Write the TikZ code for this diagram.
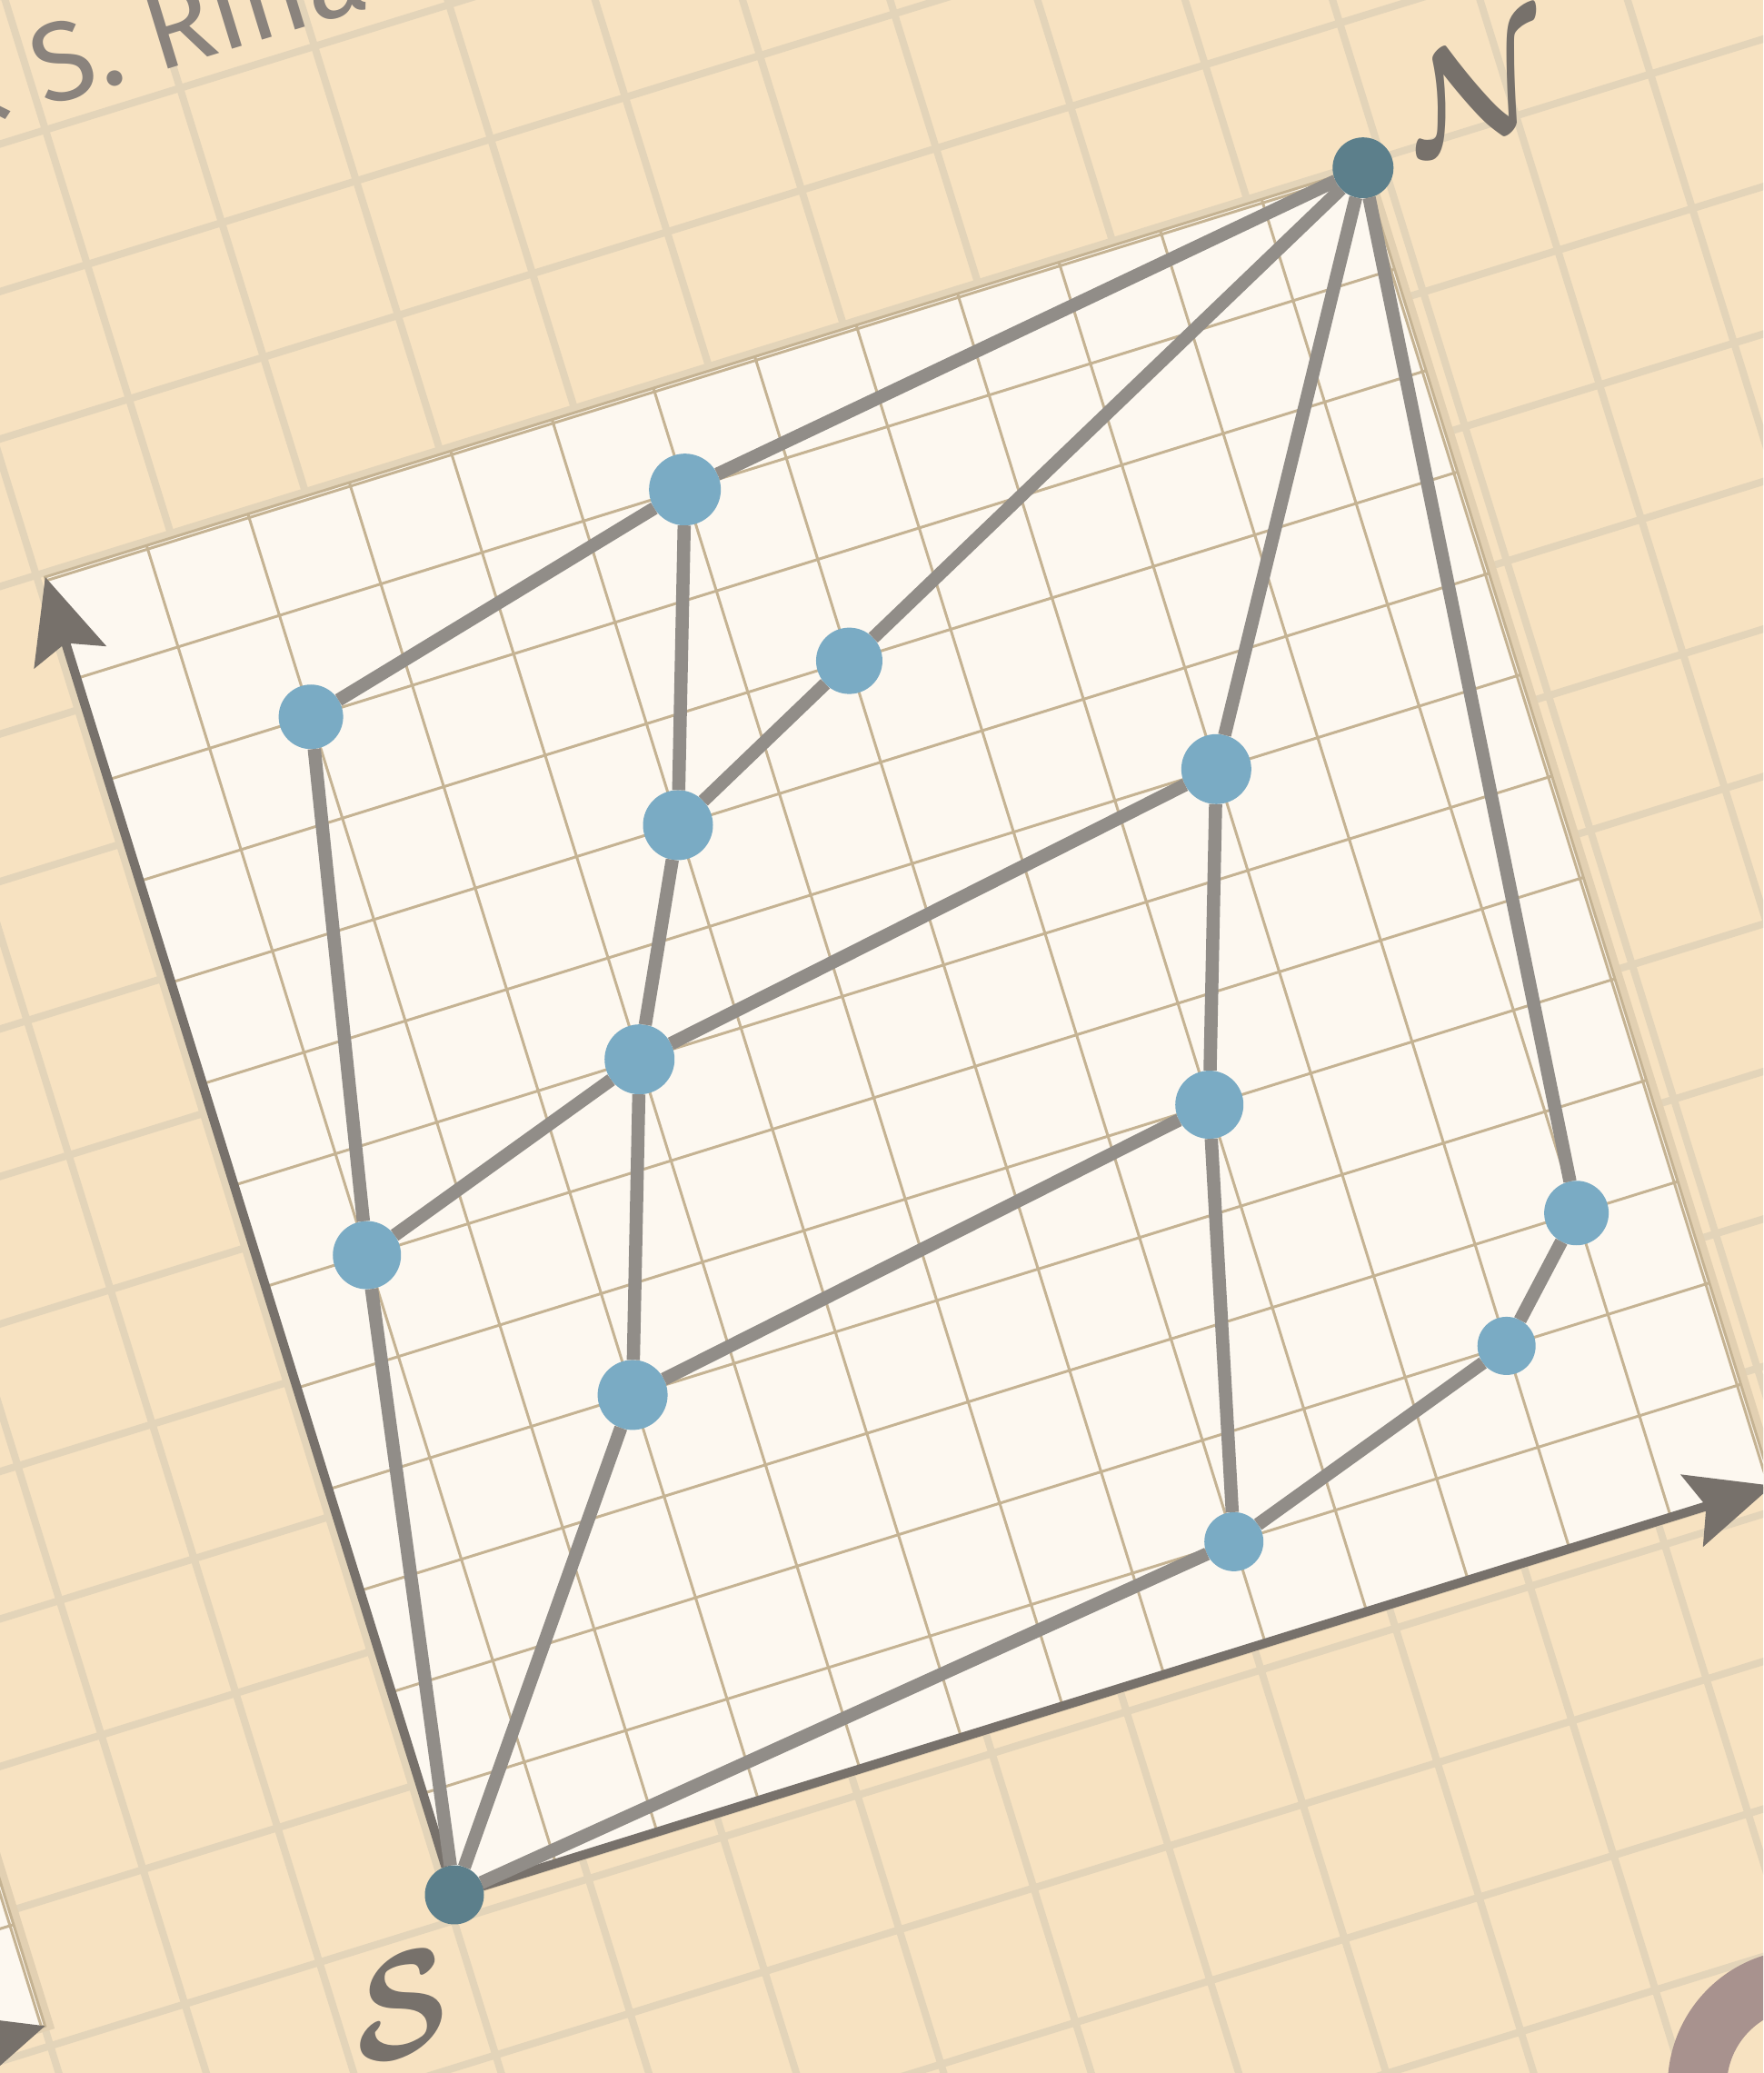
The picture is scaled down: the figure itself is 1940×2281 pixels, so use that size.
\documentclass[tikz,border=0pt]{standalone}
\usepackage{fix-cm}
\usepackage{bm}
\usepackage{fontspec}
\setsansfont{Fira Sans}
\usetikzlibrary{arrows.meta}

\definecolor{deskbg}{HTML}{F7E2C1}
\definecolor{deskline}{HTML}{E3D4B9}
\definecolor{paper}{HTML}{FDF8F0}
\definecolor{paperline}{HTML}{C5B393}
\definecolor{papershade}{HTML}{E2D0B2}
\definecolor{edgegray}{HTML}{918D88}
\definecolor{axisgray}{HTML}{77716B}
\definecolor{elemblue}{HTML}{7AABC4}
\definecolor{poleteal}{HTML}{5C7F8B}
\definecolor{inkgray}{HTML}{8A837D}
\definecolor{ringmauve}{HTML}{A8928E}

\begin{document}
\begin{tikzpicture}[
    x=0.1mm, y=0.1mm,
    every node/.style={inner sep=0pt, outer sep=0pt},
    >={Stealth[length=9.2mm, width=8.2mm, inset=1.6mm]}
]

% Define styles
\tikzstyle{elem} = [circle, fill=elemblue]
\tikzstyle{pole} = [circle, fill=poleteal]
\tikzstyle{link} = [draw=edgegray, line width=1.45mm]
\tikzstyle{axis} = [draw=axisgray, line width=1mm, ->]
\tikzstyle{sheet} = [fill=paper, draw=paperline, line width=0.3mm]
\tikzstyle{fine} = [draw=paperline, line width=0.3mm]
\tikzstyle{script} = [text=axisgray, font=\fontsize{44}{44}\selectfont, rotate=17.25]

\useasboundingbox (0,0) rectangle (1940,2281);
\clip (0,0) rectangle (1940,2281);

% Desk
\fill[deskbg] (0,0) rectangle (1940,2281);
\begin{scope}[shift={(50,2138)}, rotate=17.25, scale=155]
  \draw[deskline, line width=0.8mm, step=1] (-20,-20) grid (20,20);
\end{scope}
\node[font=\sffamily\fontsize{35}{35}\selectfont, text=inkgray,
      anchor=base west, rotate=17] (credit) at (-67,2128) {\& S. Rina};
\fill[ringmauve, even odd rule] (1985,-14) circle (150) (1985,-14) circle (85);

% Neighbour sheet
\begin{scope}[shift={(-1400.5,-398.5)}, rotate=17.25, scale=116.8]
  \fill[papershade] (0.08,-0.05) rectangle (13.08,12.95);
  \path[sheet] (0,0) rectangle (13,13);
  \draw[fine, step=1] (0,0) grid (13,13);
  \coordinate (S2) at (0,0);
  \coordinate (X2) at (13,0);
\end{scope}
\path[axis] (S2) -- (X2);

% Main sheet
\begin{scope}[shift={(500,196)}, rotate=17.25, scale=116.8]
  \fill[papershade] (0.08,-0.05) rectangle (13.08,12.95);
  \path[sheet] (0,0) rectangle (13,13);
  \draw[fine, step=1] (0,0) grid (13,13);

  % Nodes
  \node[pole, minimum size=6.5mm] (S) at (0,0) {};
  \node[pole, minimum size=6.7mm] (N) at (13,13) {};
  \node[elem, minimum size=7.9mm] (a) at (6,12) {};
  \node[elem, minimum size=7.1mm] (b) at (2,11) {};
  \node[elem, minimum size=7.3mm] (c) at (7,10) {};
  \node[elem, minimum size=7.7mm] (d) at (10,8) {};
  \node[elem, minimum size=7.7mm] (e) at (5,9) {};
  \node[elem, minimum size=7.7mm] (f) at (4,7) {};
  \node[elem, minimum size=7.5mm] (g) at (9,5) {};
  \node[elem, minimum size=7.5mm] (h) at (1,6) {};
  \node[elem, minimum size=7.1mm] (i) at (12,3) {};
  \node[elem, minimum size=7.7mm] (j) at (3,4) {};
  \node[elem, minimum size=6.4mm] (k) at (11,2) {};
  \node[elem, minimum size=6.5mm] (l) at (8,1) {};
  \coordinate (xend) at (13,0);
  \coordinate (yend) at (0,13);
\end{scope}

% Axes
\path[axis] (S) -- (xend);
\path[axis] (S) -- (yend);

% Paths
\path[link] (N) -- (a);
\path[link] (N) -- (c);
\path[link] (N) -- (d);
\path[link] (N) -- (i);
\path[link] (a) -- (b);
\path[link] (a) -- (e);
\path[link] (c) -- (e);
\path[link] (e) -- (f);
\path[link] (d) -- (f);
\path[link] (d) -- (g);
\path[link] (b) -- (h);
\path[link] (f) -- (h);
\path[link] (f) -- (j);
\path[link] (g) -- (j);
\path[link] (g) -- (l);
\path[link] (i) -- (k);
\path[link] (k) -- (l);
\path[link] (h) -- (S);
\path[link] (j) -- (S);
\path[link] (l) -- (S);

% Pole labels
\node[script] (Nlab) at (1628,2184) {$\bm{\mathcal{N}}$};
\node[script] (Slab) at (440,74) {$\bm{\mathcal{S}}$};

\end{tikzpicture}
\end{document}
